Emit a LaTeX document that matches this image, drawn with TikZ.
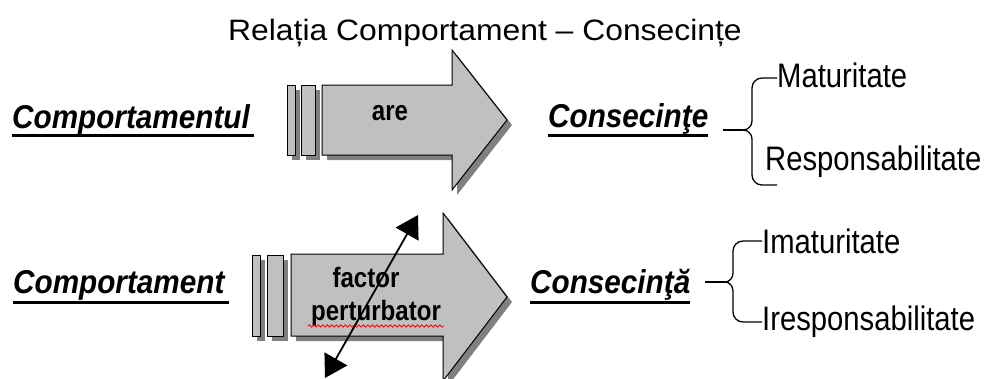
\documentclass[tikz,border=0pt]{standalone}
\usepackage{fontspec}
\setmainfont{Liberation Sans}
\newfontfamily\titlef[FakeStretch=1.08]{Liberation Sans}
\newfontfamily\labf[FakeStretch=0.9]{Liberation Sans}
\newfontfamily\itemf[FakeStretch=0.86]{Liberation Sans}
\newfontfamily\arrtxtf[FakeStretch=0.86]{Liberation Sans}
\usetikzlibrary{arrows.meta,decorations.pathmorphing}
\definecolor{fillg}{HTML}{C0C0C0}
\definecolor{shad}{HTML}{808080}
\begin{document}
\begin{tikzpicture}[x=1pt,y=-1pt,
  titletxt/.style={anchor=base west,inner sep=0pt,font=\titlef\fontsize{29.5}{30}\selectfont},
  lab/.style={anchor=base west,inner sep=0pt,font=\labf\bfseries\itshape\fontsize{33}{33}\selectfont},
  item/.style={anchor=base west,inner sep=0pt,font=\itemf\fontsize{34}{34}\selectfont},
  intxt/.style={anchor=base,inner sep=0pt,font=\arrtxtf\bfseries\fontsize{28}{28}\selectfont},
  uline/.style={line width=3pt},
  body/.style={fill=fillg,draw=black,line width=1pt},
  shadowbody/.style={fill=shad,draw=none},
  bracestyle/.style={line width=1.3pt},
  dbl/.style={line width=1.8pt,{Triangle[length=22pt,width=26pt]}-{Triangle[length=22pt,width=26pt]}},
  wavy/.style={red,line width=0.8pt,decorate,decoration={snake,amplitude=1.2pt,segment length=4.5pt}}
]
\useasboundingbox (0,0) rectangle (986,378);

% title
\node[titletxt] (title) at (228,40) {Relația Comportament – Consecințe};

% ---------- arrow 1 ----------
\begin{scope}[shift={(5,5)}]
  \fill[shadowbody] (287,85) rectangle (295,155);
  \fill[shadowbody] (301,85) rectangle (315,155);
  \fill[shadowbody] (322,85) -- (452,85) -- (452,50) -- (507,120) -- (452,190) -- (452,155) -- (322,155) -- cycle;
\end{scope}
\draw[body] (287,85) rectangle (295,155);
\draw[body] (301,85) rectangle (315,155);
\draw[body] (322,85) -- (452,85) -- (452,50) -- (507,120) -- (452,190) -- (452,155) -- (322,155) -- cycle;
\node[intxt] (are) at (390,120) {are};

% ---------- arrow 2 ----------
\begin{scope}[shift={(5,5)}]
  \fill[shadowbody] (252,255) rectangle (260,336);
  \fill[shadowbody] (267,255) rectangle (283,336);
  \fill[shadowbody] (291,254) -- (443,254) -- (443,213) -- (507,297) -- (443,381) -- (443,336) -- (291,336) -- cycle;
\end{scope}
\draw[body] (252,255) rectangle (260,336);
\draw[body] (267,255) rectangle (283,336);
\draw[body] (291,254) -- (443,254) -- (443,213) -- (507,297) -- (443,381) -- (443,336) -- (291,336) -- cycle;
\node[intxt] (factor) at (366,287) {factor};
\node[intxt] (pert) at (376,320) {perturbator};
\draw[wavy] ([yshift=-6pt,xshift=-3pt]pert.base west) -- ([yshift=-6pt,xshift=3pt]pert.base east);

% double-headed arrow
\coordinate (fpTop) at (418,215);
\coordinate (fpBot) at (325,378);
\draw[dbl] (fpBot) -- (fpTop);

% ---------- left labels ----------
\node[lab] (c1) at (12,128) {Comportamentul};
\draw[uline] ([yshift=-7pt]c1.base west) -- ([yshift=-7pt,xshift=4pt]c1.base east);
\node[lab] (c2) at (13,293) {Comportament};
\draw[uline] ([yshift=-9pt]c2.base west) -- ([yshift=-9pt,xshift=4pt]c2.base east);

% ---------- middle labels ----------
\node[lab] (k1) at (548,127) {Consecinţe};
\draw[uline] ([yshift=-8pt]k1.base west) -- ([yshift=-8pt]k1.base east);
\node[lab] (k2) at (530,293) {Consecinţă};
\draw[uline] ([yshift=-9pt]k2.base west) -- ([yshift=-9pt]k2.base east);

% ---------- right items ----------
\node[item] (m1) at (777,87) {Maturitate};
\node[item] (r1) at (765,170) {Responsabilitate};
\node[item] (m2) at (762,253) {Imaturitate};
\node[item] (r2) at (762,330) {Iresponsabilitate};

% braces
\coordinate (b1t) at (777,78);
\coordinate (b1b) at (777,185);
\coordinate (b1c) at (743,130);
\coordinate (b1s) at (723,130);
\draw[bracestyle] (b1t) -- (762,78) to[out=180,in=90] (752,88) -- (752,121) to[out=-90,in=0] (b1c)
  to[out=0,in=90] (752,139) -- (752,175) to[out=-90,in=180] (762,185) -- (b1b);
\draw[bracestyle] (b1s) -- (b1c);

\coordinate (b2t) at (762,241);
\coordinate (b2b) at (762,322);
\coordinate (b2c) at (725,282);
\coordinate (b2s) at (705,282);
\draw[bracestyle] (b2t) -- (743,241) to[out=180,in=90] (733,251) -- (733,273) to[out=-90,in=0] (b2c)
  to[out=0,in=90] (733,291) -- (733,312) to[out=-90,in=180] (743,322) -- (b2b);
\draw[bracestyle] (b2s) -- (b2c);
\end{tikzpicture}
\end{document}
